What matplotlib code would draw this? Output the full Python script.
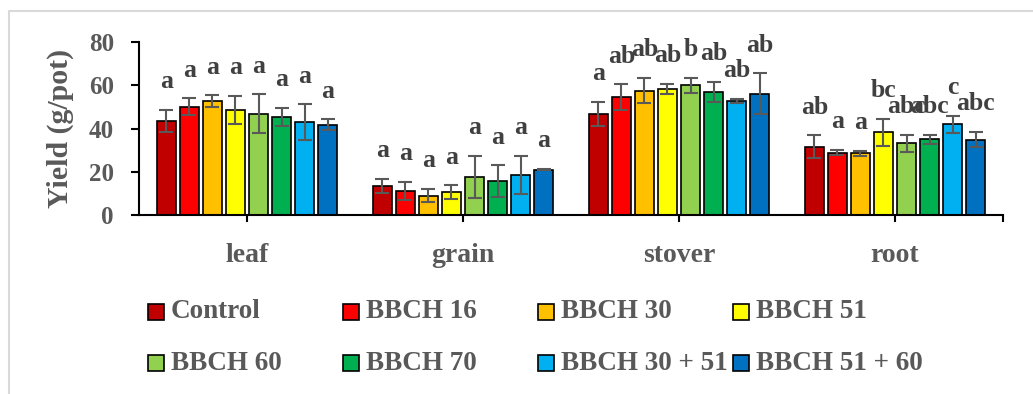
import numpy as np
import matplotlib.pyplot as plt
from matplotlib.patches import Rectangle
from matplotlib.lines import Line2D

organs = ["leaf", "grain", "stover", "root"]
treatments = ["Control", "BBCH 16", "BBCH 30", "BBCH 51",
              "BBCH 60", "BBCH 70", "BBCH 30 + 51", "BBCH 51 + 60"]
colors = ["#C00000", "#FF0000", "#FFC000", "#FFFF00",
          "#92D050", "#00B050", "#00B0F0", "#0070C0"]

# yield means and error bars (g/pot), one value per treatment
leaf_mean = [43.5, 50.1, 52.6, 48.6, 46.8, 45.5, 42.9, 41.8]
leaf_err = [5.1, 3.8, 2.7, 6.6, 9.0, 4.2, 8.2, 2.5]
grain_mean = [13.6, 11.1, 8.9, 10.5, 17.6, 15.7, 18.5, 21.0]
grain_err = [3.2, 4.2, 3.1, 3.2, 9.7, 7.3, 8.8, 0.4]
stover_mean = [46.8, 54.5, 57.5, 58.3, 60.0, 56.9, 52.8, 56.0]
stover_err = [5.5, 6.0, 5.8, 2.5, 3.5, 4.7, 1.0, 9.5]
root_mean = [31.6, 28.8, 28.5, 38.3, 33.2, 35.0, 42.0, 34.9]
root_err = [5.2, 1.2, 1.3, 6.2, 3.9, 2.0, 3.9, 3.6]

# significance letters
leaf_let = ["a", "a", "a", "a", "a", "a", "a", "a"]
grain_let = ["a", "a", "a", "a", "a", "a", "a", "a"]
stover_let = ["a", "ab", "ab", "ab", "b", "ab", "ab", "ab"]
root_let = ["ab", "a", "a", "bc", "abc", "abc", "c", "abc"]

yticks = [0, 20, 40, 60, 80]

means = np.array([leaf_mean, grain_mean, stover_mean, root_mean])
errs = np.array([leaf_err, grain_err, stover_err, root_err])
letters = [leaf_let, grain_let, stover_let, root_let]

plt.rcParams['font.family'] = ['Liberation Serif', 'DejaVu Serif']
plt.rcParams['font.weight'] = 'bold'
grey = "#595959"
dark = "#404040"

W, H = 1033, 394
fig = plt.figure(figsize=(W / 100, H / 100), dpi=100)
ax = fig.add_axes([139 / W, 1 - 215 / H, 864 / W, 173 / H])

x = np.arange(len(organs))
slot = 0.1065
bw = 0.088
for i, t in enumerate(treatments):
    pos = x + (i - 3.5) * slot
    ax.bar(pos, means[:, i], bw, color=colors[i], edgecolor="black",
           linewidth=1.2, label=t, zorder=2)
    ax.errorbar(pos, means[:, i], yerr=errs[:, i], fmt="none",
                ecolor=grey, elinewidth=1.5, capsize=5, capthick=1.5, zorder=3)
    for k in range(len(organs)):
        ax.text(pos[k], means[k, i] + errs[k, i] + 10, letters[k][i],
                ha="center", va="baseline", fontsize=18.5, color=dark,
                fontweight="bold")

ax.set_xlim(-0.5, 3.5)
ax.set_ylim(0, 80)
ax.set_yticks(yticks)
ax.set_xticks(list(x) + [3.5])
ax.set_xticklabels(organs + [""])
for s in ["top", "right"]:
    ax.spines[s].set_visible(False)
for s in ["left", "bottom"]:
    ax.spines[s].set_linewidth(1.5)
ax.tick_params(axis="y", direction="out", length=6, width=1.5,
               labelsize=18, labelcolor=grey, pad=12)
ax.tick_params(axis="x", direction="out", length=5, width=1.5,
               labelsize=20, labelcolor=grey, pad=15)

fig.text(60 / W, 1 - 128 / H, "Yield (g/pot)", rotation=90, ha="center",
         va="center", fontsize=21.5, color=grey, fontweight="bold")

# legend laid out in fixed columns like the original
for i, t in enumerate(treatments):
    col, row = i % 4, i // 4
    x0 = 148 + col * 195
    yc = 312 + row * 51
    fig.add_artist(Rectangle((x0 / W, 1 - (yc + 8) / H), 16 / W, 16 / H,
                             facecolor=colors[i], edgecolor="black",
                             linewidth=1.2, transform=fig.transFigure))
    fig.text((x0 + 23) / W, 1 - yc / H, t, ha="left", va="center",
             fontsize=19.5, color=grey, fontweight="bold")

# chart area border
fig.add_artist(Line2D([8.5 / W, 8.5 / W, 1], [0, 1 - 11 / H, 1 - 11 / H],
                      color="#D9D9D9", linewidth=1.5, transform=fig.transFigure))

plt.savefig("out.png", dpi=100)
